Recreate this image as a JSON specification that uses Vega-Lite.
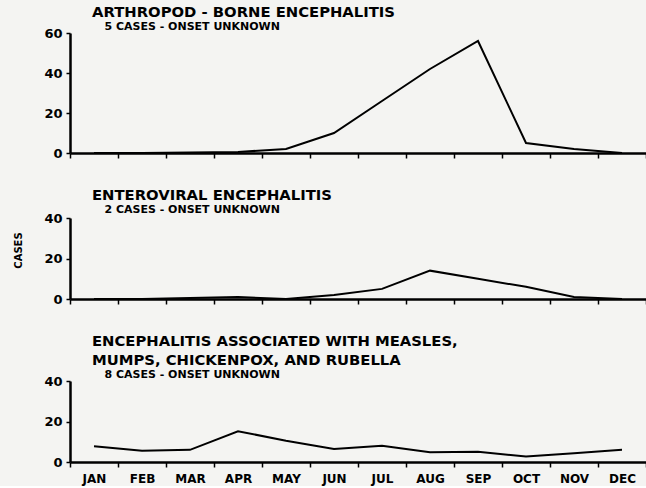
{
  "$schema": "https://vega.github.io/schema/vega-lite/v6.json",
  "background": "#f4f4f2",
  "padding": {"left": 13, "right": 0, "top": 5, "bottom": 2},
  "spacing": 28,
  "config": {
    "view": {"stroke": null},
    "font": "DejaVu Sans",
    "axis": {
      "domainColor": "black", "domainWidth": 2.5, "tickColor": "black", "tickWidth": 1.5, "tickSize": 4,
      "labelFont": "DejaVu Sans", "labelFontWeight": "bold", "labelColor": "black", "grid": false,
      "titleFont": "DejaVu Sans", "titleFontWeight": "bold", "titleColor": "black"
    },
    "title": {
      "anchor": "start", "frame": "group", "font": "DejaVu Sans", "fontSize": 14.8, "fontWeight": "bold", "color": "black",
      "subtitleFont": "DejaVu Sans", "subtitleFontSize": 11, "subtitleFontWeight": "bold", "subtitleColor": "black",
      "subtitlePadding": 1, "lineHeight": 19
    }
  },
  "data": {"values": [
    {"panel": "A", "month": "JAN", "cases": 0},
    {"panel": "A", "month": "FEB", "cases": 0},
    {"panel": "A", "month": "MAR", "cases": 0.3},
    {"panel": "A", "month": "APR", "cases": 0.5},
    {"panel": "A", "month": "MAY", "cases": 2},
    {"panel": "A", "month": "JUN", "cases": 10},
    {"panel": "A", "month": "JUL", "cases": 26},
    {"panel": "A", "month": "AUG", "cases": 42},
    {"panel": "A", "month": "SEP", "cases": 56},
    {"panel": "A", "month": "OCT", "cases": 5},
    {"panel": "A", "month": "NOV", "cases": 2},
    {"panel": "A", "month": "DEC", "cases": 0},
    {"panel": "B", "month": "JAN", "cases": 0},
    {"panel": "B", "month": "FEB", "cases": 0},
    {"panel": "B", "month": "MAR", "cases": 0.5},
    {"panel": "B", "month": "APR", "cases": 1},
    {"panel": "B", "month": "MAY", "cases": 0},
    {"panel": "B", "month": "JUN", "cases": 2},
    {"panel": "B", "month": "JUL", "cases": 5},
    {"panel": "B", "month": "AUG", "cases": 14},
    {"panel": "B", "month": "SEP", "cases": 10},
    {"panel": "B", "month": "OCT", "cases": 6},
    {"panel": "B", "month": "NOV", "cases": 1},
    {"panel": "B", "month": "DEC", "cases": 0},
    {"panel": "C", "month": "JAN", "cases": 7.8},
    {"panel": "C", "month": "FEB", "cases": 5.5},
    {"panel": "C", "month": "MAR", "cases": 6},
    {"panel": "C", "month": "APR", "cases": 15.2},
    {"panel": "C", "month": "MAY", "cases": 10.5},
    {"panel": "C", "month": "JUN", "cases": 6.4},
    {"panel": "C", "month": "JUL", "cases": 8},
    {"panel": "C", "month": "AUG", "cases": 4.8},
    {"panel": "C", "month": "SEP", "cases": 5},
    {"panel": "C", "month": "OCT", "cases": 2.7},
    {"panel": "C", "month": "NOV", "cases": 4.3},
    {"panel": "C", "month": "DEC", "cases": 6}
  ]},
  "vconcat": [
    {
      "width": 576, "height": 120,
      "title": {"text": "ARTHROPOD - BORNE ENCEPHALITIS", "subtitle": "\u2800 5 CASES - ONSET UNKNOWN", "dx": 22, "offset": -5},
      "transform": [{"filter": "datum.panel === 'A'"}],
      "mark": {"type": "line", "color": "black", "strokeWidth": 2},
      "encoding": {
        "x": {"field": "month", "type": "ordinal", "bandPosition": 0.5,
          "sort": ["JAN","FEB","MAR","APR","MAY","JUN","JUL","AUG","SEP","OCT","NOV","DEC"],
          "scale": {"type": "band", "paddingInner": 0, "paddingOuter": 0},
          "axis": {"title": null, "labels": false, "tickBand": "extent", "tickSize": 5}},
        "y": {"field": "cases", "type": "quantitative", "scale": {"domain": [0, 60], "nice": false},
          "axis": {"title": null, "values": [0, 20, 40, 60], "labelFontSize": 13, "labelPadding": 4}}
      }
    },
    {
      "width": 576, "height": 81,
      "title": {"text": "ENTEROVIRAL ENCEPHALITIS", "subtitle": "\u2800 2 CASES - ONSET UNKNOWN", "dx": 22, "offset": -3},
      "transform": [{"filter": "datum.panel === 'B'"}],
      "mark": {"type": "line", "color": "black", "strokeWidth": 2},
      "encoding": {
        "x": {"field": "month", "type": "ordinal", "bandPosition": 0.5,
          "sort": ["JAN","FEB","MAR","APR","MAY","JUN","JUL","AUG","SEP","OCT","NOV","DEC"],
          "scale": {"type": "band", "paddingInner": 0, "paddingOuter": 0},
          "axis": {"title": null, "labels": false, "tickBand": "extent", "tickSize": 5}},
        "y": {"field": "cases", "type": "quantitative", "scale": {"domain": [0, 40], "nice": false},
          "axis": {"title": "CASES", "titleFontSize": 10, "titlePadding": 20, "titleY": 32, "values": [0, 20, 40], "labelFontSize": 13, "labelPadding": 4}}
      }
    },
    {
      "width": 576, "height": 81,
      "title": {"text": ["ENCEPHALITIS ASSOCIATED WITH MEASLES,", "MUMPS, CHICKENPOX, AND RUBELLA"], "subtitle": "\u2800 8 CASES - ONSET UNKNOWN", "dx": 22, "offset": -5},
      "transform": [{"filter": "datum.panel === 'C'"}],
      "mark": {"type": "line", "color": "black", "strokeWidth": 2},
      "encoding": {
        "x": {"field": "month", "type": "ordinal", "bandPosition": 0.5,
          "sort": ["JAN","FEB","MAR","APR","MAY","JUN","JUL","AUG","SEP","OCT","NOV","DEC"],
          "scale": {"type": "band", "paddingInner": 0, "paddingOuter": 0},
          "axis": {"title": null, "labelAngle": 0, "labelFontSize": 12, "labelPadding": 6, "tickBand": "extent", "tickSize": 5}},
        "y": {"field": "cases", "type": "quantitative", "scale": {"domain": [0, 40], "nice": false},
          "axis": {"title": null, "values": [0, 20, 40], "labelFontSize": 13, "labelPadding": 4}}
      }
    }
  ]
}
